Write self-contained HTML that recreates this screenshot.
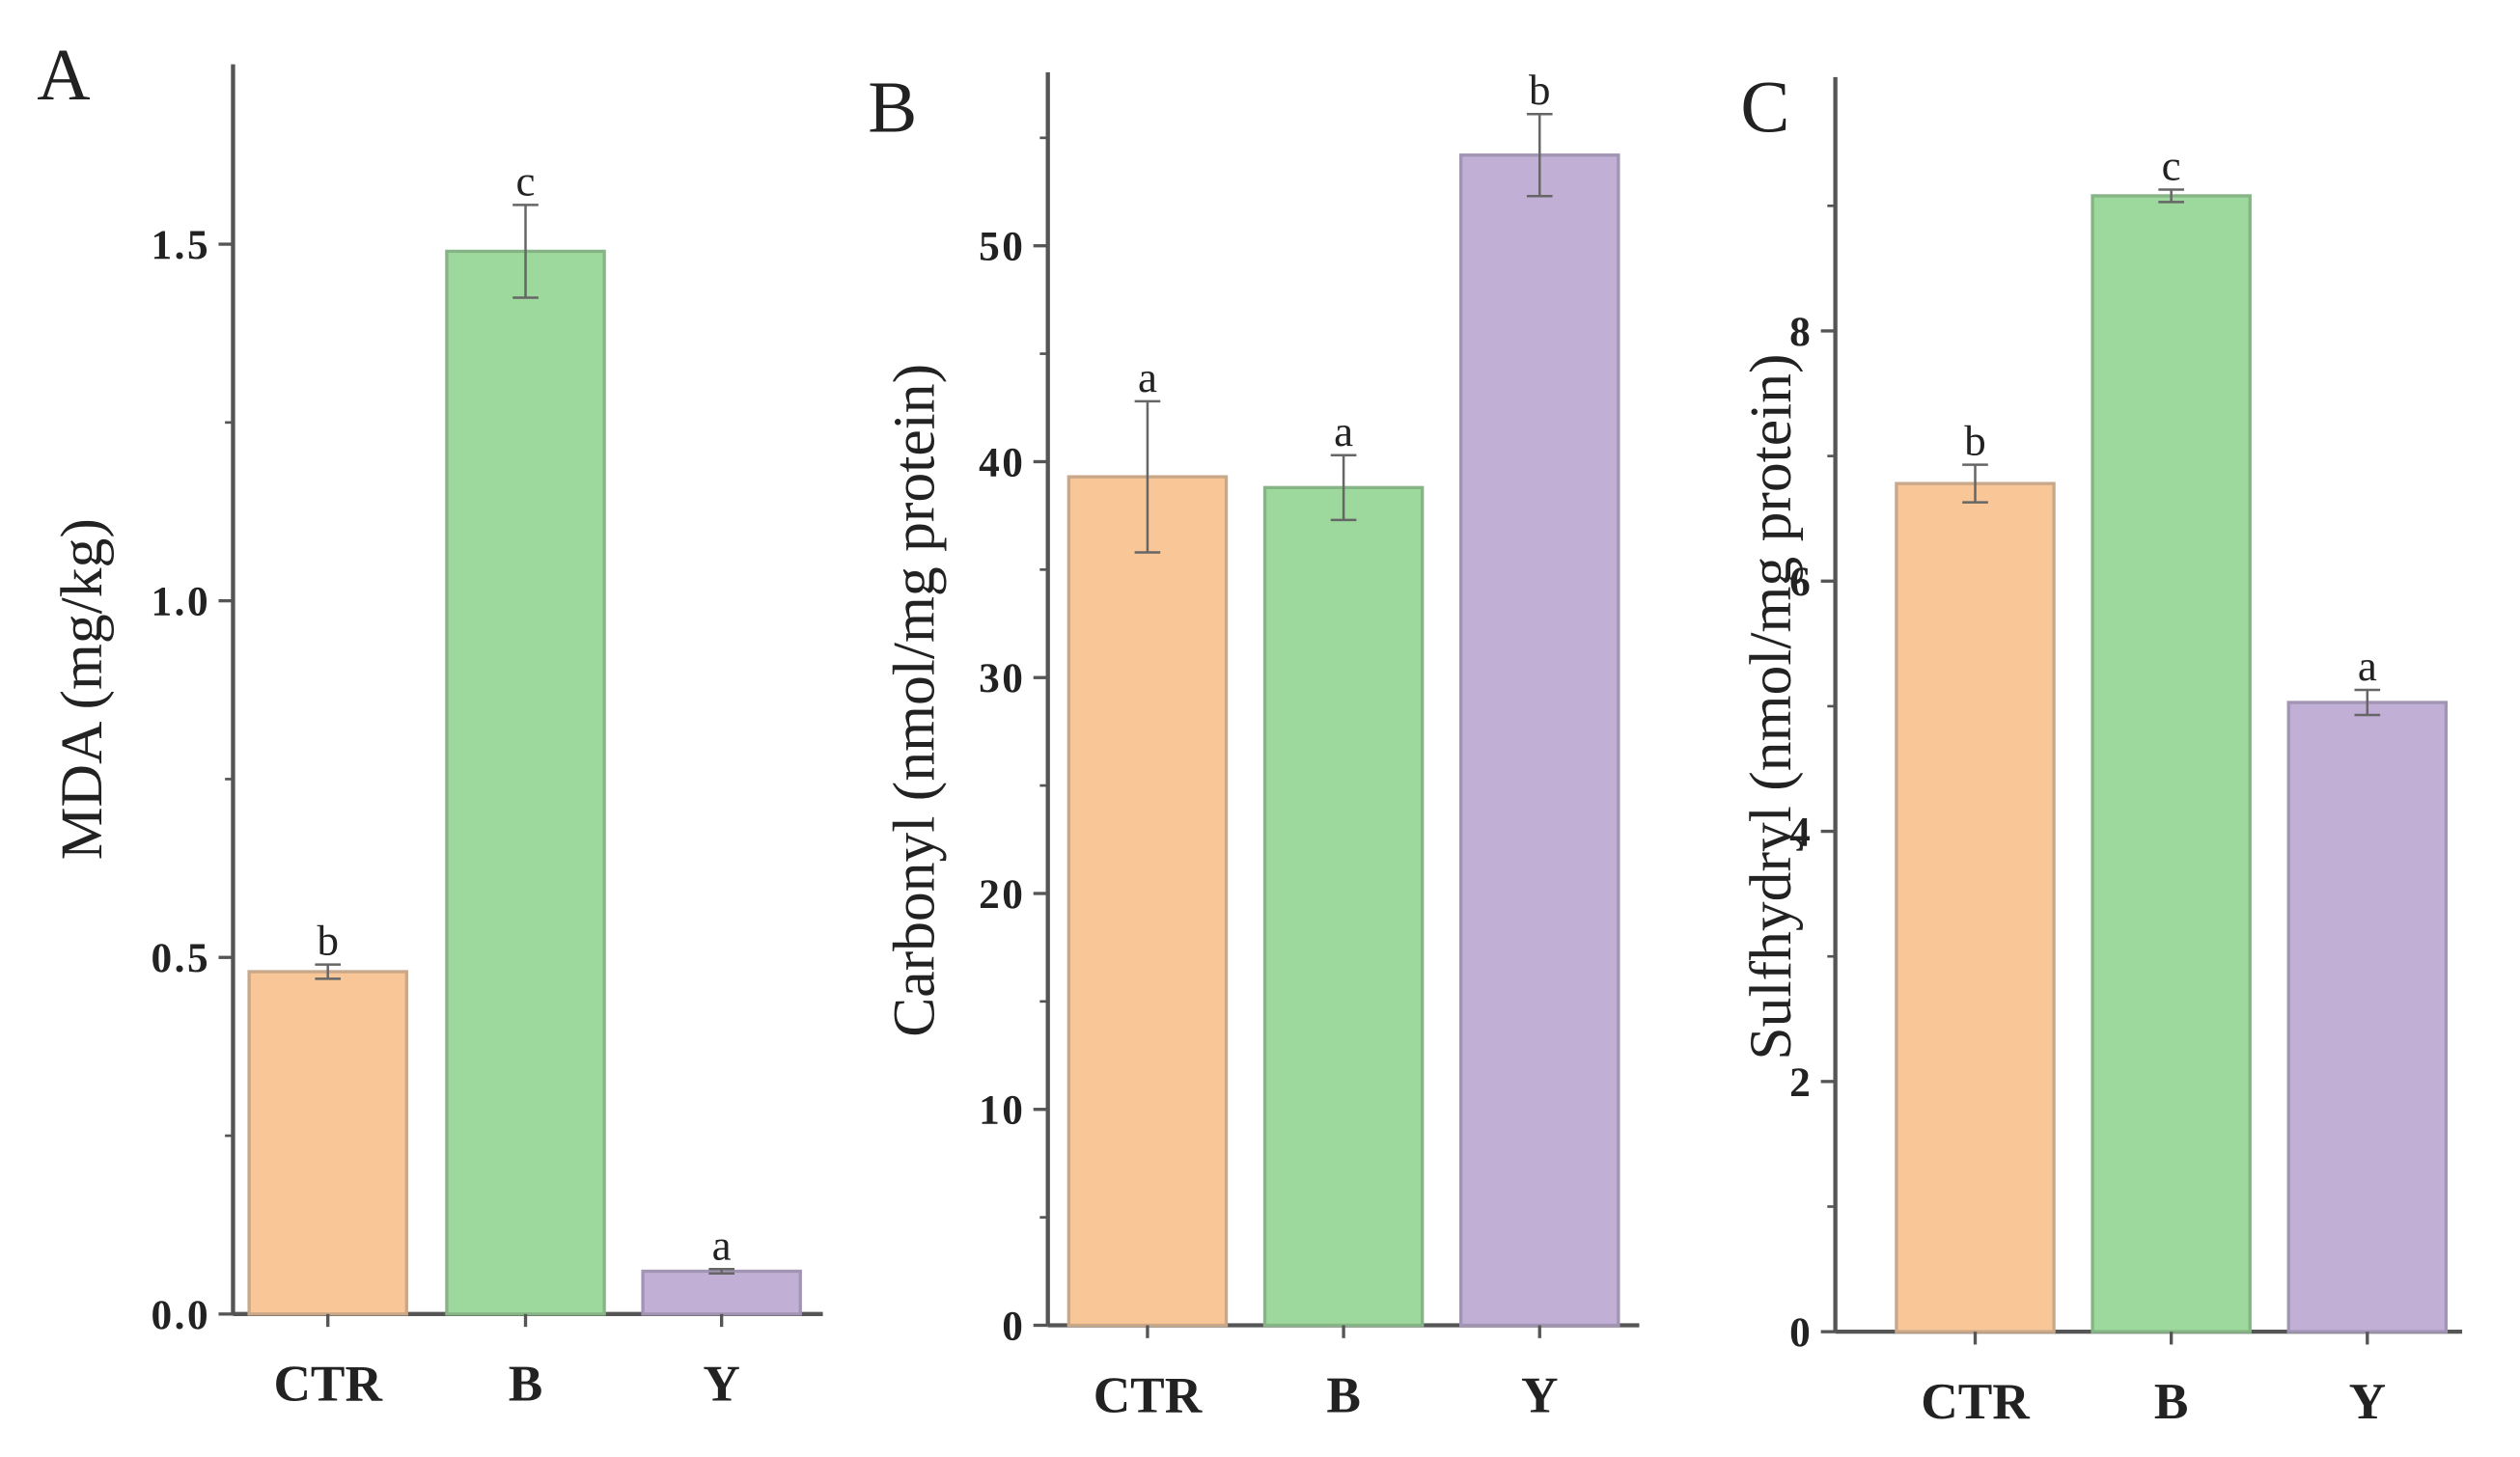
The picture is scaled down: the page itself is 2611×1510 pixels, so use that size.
<!DOCTYPE html>
<html><head><meta charset="utf-8"><style>
html,body{margin:0;padding:0;background:#fff;}
svg{display:block;}
text{font-family:"Liberation Serif",serif;fill:#222;}
</style></head><body>
<svg id="fig" width="2611" height="1510" viewBox="0 0 1568 907" preserveAspectRatio="none" xmlns="http://www.w3.org/2000/svg"></svg>
<script>
const categories = ["CTR", "B", "Y"];
const mdaValues = [0.48, 1.49, 0.06];
const mdaErrors = [0.01, 0.065, 0.003];
const mdaLetters = ["b", "c", "a"];
const mdaTicks = [0, 0.5, 1.0, 1.5];
const mdaTickLabels = ["0.0", "0.5", "1.0", "1.5"];
const carbonylValues = [39.3, 38.8, 54.2];
const carbonylErrors = [3.5, 1.5, 1.9];
const carbonylLetters = ["a", "a", "b"];
const carbonylTicks = [0, 10, 20, 30, 40, 50];
const carbonylTickLabels = ["0", "10", "20", "30", "40", "50"];
const sulfValues = [6.78, 9.08, 5.03];
const sulfErrors = [0.15, 0.05, 0.1];
const sulfLetters = ["b", "c", "a"];
const sulfTicks = [0, 2, 4, 6, 8];
const sulfTickLabels = ["0", "2", "4", "6", "8"];
const fills = ["#f9c797", "#9dd89c", "#c1afd6"];
const strokes = ["#c9a88a", "#86b486", "#a295b3"];

const svg = document.getElementById('fig');
const NS = "http://www.w3.org/2000/svg";
function mk(tag, attrs, parent){
  const e = document.createElementNS(NS, tag);
  for (const k in attrs) e.setAttribute(k, attrs[k]);
  (parent||svg).appendChild(e); return e;
}

function panel(cfg){
  const g = mk('g', {});
  
  
  const y = v => cfg.y0 - (v - 0) * (cfg.y0 - cfg.yRef) / cfg.vRef;
  const ya = mk('line', {x1:cfg.ax, y1:cfg.top, x2:cfg.ax, y2:cfg.y0, stroke:'#555', 'stroke-width':2.6}, g);
  
  
  const xa = mk('line', {x1:cfg.ax, y1:cfg.y0, x2:cfg.right, y2:cfg.y0, stroke:'#555', 'stroke-width':2.6}, g);
  
  
  cfg.ticks.forEach((t, i) => {
    const ty = y(t);
    const tk = mk('line', {x1:cfg.ax-9, y1:ty, x2:cfg.ax, y2:ty, stroke:'#555', 'stroke-width':2}, g);
    
    
    const tl = mk('text', {x:cfg.ax-14, y:ty+9, 'text-anchor':'end', 'font-size':26, 'font-weight':'bold', 'letter-spacing':1.5}, g);
    tl.textContent = cfg.tickLabels[i];
    
    
  });
  for (let m = cfg.minorStep; y(m) > cfg.top + 2; m += cfg.minorStep*2) {
    const mt = mk('line', {x1:cfg.ax-5, y1:y(m), x2:cfg.ax, y2:y(m), stroke:'#555', 'stroke-width':1.6}, g);
    
    
  }
  categories.forEach((c, i) => {
    const x0 = cfg.bx[i], w = 98, cx = x0 + w/2;
    const top = y(cfg.values[i]);
    const b = mk('rect', {x:x0, y:top, width:w, height:cfg.y0-top, fill:fills[i], stroke:strokes[i], 'stroke-width':2}, g);
    
    
    const eh = y(cfg.values[i] + cfg.errors[i]), el = y(cfg.values[i] - cfg.errors[i]);
    const eb = mk('path', {d:`M${cx},${eh}V${el}M${cx-8},${eh}H${cx+8}M${cx-8},${el}H${cx+8}`, stroke:'#666', 'stroke-width':1.5, fill:'none'}, g);
    
    
    const lt = mk('text', {x:cx, y:eh-6, 'text-anchor':'middle', 'font-size':27}, g);
    lt.textContent = cfg.letters[i];
    
    
    const xt = mk('line', {x1:cx, y1:cfg.y0, x2:cx, y2:cfg.y0+8, stroke:'#555', 'stroke-width':2}, g);
    
    
    const xl = mk('text', {x:cx, y:cfg.y0+54, 'text-anchor':'middle', 'font-size':32, 'font-weight':'bold'}, g);
    xl.textContent = c;
    
    
  });
  const yt = mk('text', {x:0, y:0, 'text-anchor':'middle', 'font-size':37, transform:`translate(${cfg.ylx},${cfg.yly}) rotate(-90)`}, g);
  yt.textContent = cfg.ytitle;
  
  
  const pl = mk('text', {x:cfg.lx, y:cfg.ly, 'font-size':46}, g);
  pl.textContent = cfg.letter;
  
  
}

panel({name:'panel-a-mda', ax:145, top:40, y0:818, right:512, yRef:152, vRef:1.5,
  ticks:mdaTicks, tickLabels:mdaTickLabels, minorStep:0.25,
  values:mdaValues, errors:mdaErrors, letters:mdaLetters, bx:[155,278,400],
  ytitle:'MDA (mg/kg)', ylx:63, yly:429, letter:'A', lx:23, ly:62});
panel({name:'panel-b-carbonyl', ax:652, top:45, y0:825, right:1020, yRef:153, vRef:50,
  ticks:carbonylTicks, tickLabels:carbonylTickLabels, minorStep:5,
  values:carbonylValues, errors:carbonylErrors, letters:carbonylLetters, bx:[665,787,909],
  ytitle:'Carbonyl (nmol/mg protein)', ylx:581, yly:436, letter:'B', lx:540, ly:82});
panel({name:'panel-c-sulfhydryl', ax:1142, top:48, y0:829, right:1532, yRef:206, vRef:8,
  ticks:sulfTicks, tickLabels:sulfTickLabels, minorStep:1,
  values:sulfValues, errors:sulfErrors, letters:sulfLetters, bx:[1180,1302,1424],
  ytitle:'Sulfhydryl (nmol/mg protein)', ylx:1114, yly:440, letter:'C', lx:1083, ly:82});
</script>
</body></html>
